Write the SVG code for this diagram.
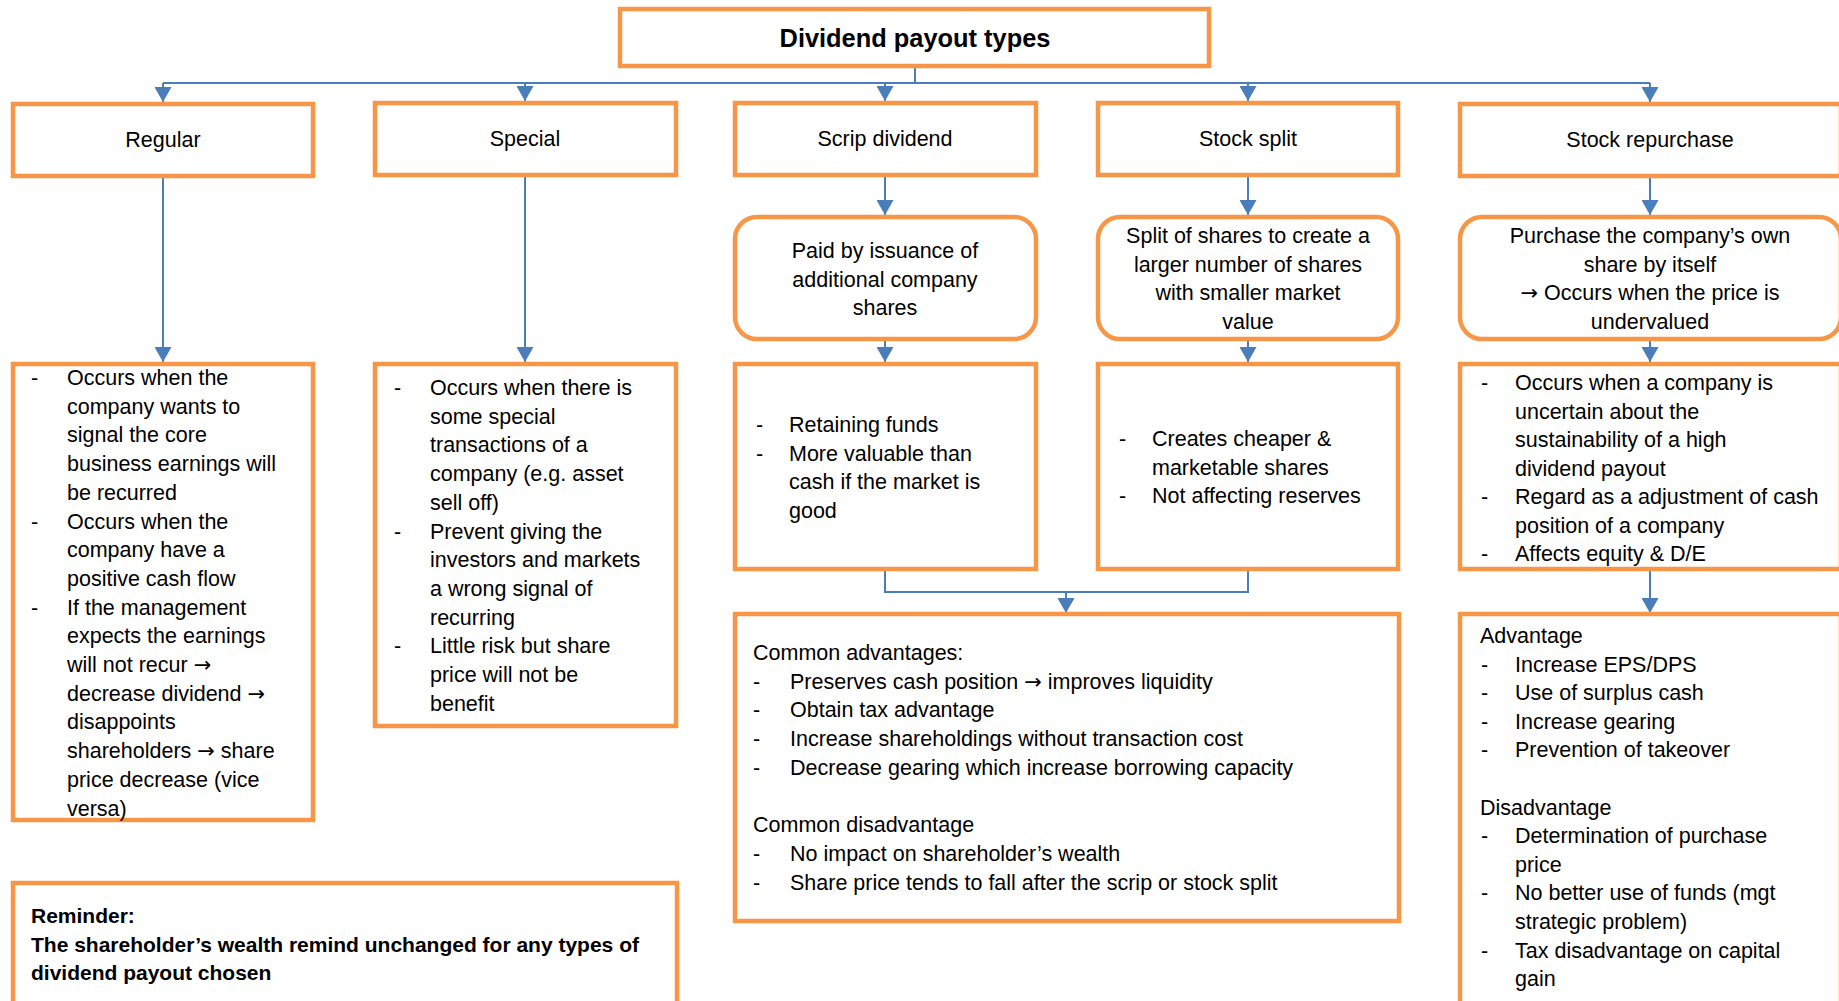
<svg xmlns="http://www.w3.org/2000/svg" width="1839" height="1001" viewBox="0 0 1839 1001">
<style>
.box{fill:#fff;stroke:#F79646;stroke-width:4.5}
.t{font-family:"Liberation Sans",Arial,sans-serif;font-size:21.5px;fill:#000}
.c{text-anchor:middle}
.b{font-weight:bold;font-size:21px}
.a{font-family:"DejaVu Sans",sans-serif;font-size:21px}
.title{font-family:"Liberation Sans",Arial,sans-serif;font-weight:bold;font-size:25.4px;text-anchor:middle;fill:#000}
.ln{fill:none;stroke:#4A7EBB;stroke-width:2}
.ar{marker-end:url(#arr)}
</style>
<defs>
<marker id="arr" markerUnits="userSpaceOnUse" markerWidth="16" markerHeight="17" refX="15" refY="8.5" orient="auto">
<path d="M0,0 L15,8.5 L0,17 Z" fill="#4A7EBB"/>
</marker>
</defs>
<rect width="1839" height="1001" fill="#fff"/>

<g id="connectors">
<path class="ln" d="M915,68 V83 M163,83 H1650"/>
<path class="ln ar" d="M163,83 V102"/>
<path class="ln ar" d="M525,83 V101"/>
<path class="ln ar" d="M885,83 V101"/>
<path class="ln ar" d="M1248,83 V101"/>
<path class="ln ar" d="M1650,83 V102"/>
<path class="ln ar" d="M163,178 V362"/>
<path class="ln ar" d="M525,177 V362"/>
<path class="ln ar" d="M885,177 V215"/>
<path class="ln ar" d="M1248,177 V215"/>
<path class="ln ar" d="M1650,178 V215"/>
<path class="ln ar" d="M885,341 V362"/>
<path class="ln ar" d="M1248,341 V362"/>
<path class="ln ar" d="M1650,341 V362"/>
<path class="ln" d="M885,571 V592 H1248 V571"/>
<path class="ln ar" d="M1066,592 V613"/>
<path class="ln ar" d="M1650,571 V613"/>
</g>

<g id="title">
<rect class="box" x="620" y="9" width="589" height="57"/>
<text class="title" x="915" y="47">Dividend payout types</text>
</g>

<g id="regular">
<rect class="box" x="13" y="104" width="300" height="72"/>
<text class="t c" x="163" y="147">Regular</text>
</g>
<g id="special">
<rect class="box" x="375" y="103" width="301" height="72"/>
<text class="t c" x="525" y="146">Special</text>
</g>
<g id="scrip">
<rect class="box" x="735" y="103" width="301" height="72"/>
<text class="t c" x="885" y="146">Scrip dividend</text>
</g>
<g id="split">
<rect class="box" x="1098" y="103" width="300" height="72"/>
<text class="t c" x="1248" y="146">Stock split</text>
</g>
<g id="repurchase">
<rect class="box" x="1460" y="104" width="381" height="72"/>
<text class="t c" x="1650" y="147">Stock repurchase</text>
</g>

<g id="scrip-desc">
<rect class="box" x="735" y="217" width="301" height="122" rx="22"/>
<text class="t c" x="885" y="258">Paid by issuance of</text>
<text class="t c" x="885" y="287">additional company</text>
<text class="t c" x="885" y="315">shares</text>
</g>
<g id="split-desc">
<rect class="box" x="1098" y="217" width="300" height="122" rx="22"/>
<text class="t c" x="1248" y="243">Split of shares to create a</text>
<text class="t c" x="1248" y="271.5">larger number of shares</text>
<text class="t c" x="1248" y="300">with smaller market</text>
<text class="t c" x="1248" y="328.5">value</text>
</g>
<g id="repurchase-desc">
<rect class="box" x="1460" y="217" width="381" height="122" rx="22"/>
<text class="t c" x="1650" y="243">Purchase the company’s own</text>
<text class="t c" x="1650" y="271.5">share by itself</text>
<text class="t c" x="1650" y="300"><tspan class="a">→</tspan> Occurs when the price is</text>
<text class="t c" x="1650" y="328.5">undervalued</text>
</g>

<g id="regular-details">
<rect class="box" x="13" y="364" width="300" height="456"/>
<text class="t" x="31" y="385">-</text>
<text class="t" x="67" y="385">Occurs when the</text>
<text class="t" x="67" y="413.7">company wants to</text>
<text class="t" x="67" y="442.4">signal the core</text>
<text class="t" x="67" y="471.1">business earnings will</text>
<text class="t" x="67" y="499.8">be recurred</text>
<text class="t" x="31" y="528.5">-</text>
<text class="t" x="67" y="528.5">Occurs when the</text>
<text class="t" x="67" y="557.2">company have a</text>
<text class="t" x="67" y="585.9">positive cash flow</text>
<text class="t" x="31" y="614.6">-</text>
<text class="t" x="67" y="614.6">If the management</text>
<text class="t" x="67" y="643.3">expects the earnings</text>
<text class="t" x="67" y="672">will not recur <tspan class="a">→</tspan></text>
<text class="t" x="67" y="700.7">decrease dividend <tspan class="a">→</tspan></text>
<text class="t" x="67" y="729.4">disappoints</text>
<text class="t" x="67" y="758.1">shareholders <tspan class="a">→</tspan> share</text>
<text class="t" x="67" y="786.8">price decrease (vice</text>
<text class="t" x="67" y="815.5">versa)</text>
</g>

<g id="special-details">
<rect class="box" x="375" y="364" width="301" height="362"/>
<text class="t" x="394" y="395">-</text>
<text class="t" x="430" y="395">Occurs when there is</text>
<text class="t" x="430" y="423.7">some special</text>
<text class="t" x="430" y="452.4">transactions of a</text>
<text class="t" x="430" y="481.1">company (e.g. asset</text>
<text class="t" x="430" y="509.8">sell off)</text>
<text class="t" x="394" y="538.5">-</text>
<text class="t" x="430" y="538.5">Prevent giving the</text>
<text class="t" x="430" y="567.2">investors and markets</text>
<text class="t" x="430" y="595.9">a wrong signal of</text>
<text class="t" x="430" y="624.6">recurring</text>
<text class="t" x="394" y="653.3">-</text>
<text class="t" x="430" y="653.3">Little risk but share</text>
<text class="t" x="430" y="682">price will not be</text>
<text class="t" x="430" y="710.7">benefit</text>
</g>

<g id="scrip-details">
<rect class="box" x="735" y="364" width="301" height="205"/>
<text class="t" x="756" y="432">-</text>
<text class="t" x="789" y="432">Retaining funds</text>
<text class="t" x="756" y="460.7">-</text>
<text class="t" x="789" y="460.7">More valuable than</text>
<text class="t" x="789" y="489.4">cash if the market is</text>
<text class="t" x="789" y="518.1">good</text>
</g>

<g id="split-details">
<rect class="box" x="1098" y="364" width="300" height="205"/>
<text class="t" x="1119" y="446">-</text>
<text class="t" x="1152" y="446">Creates cheaper &amp;</text>
<text class="t" x="1152" y="474.7">marketable shares</text>
<text class="t" x="1119" y="503.4">-</text>
<text class="t" x="1152" y="503.4">Not affecting reserves</text>
</g>

<g id="repurchase-details">
<rect class="box" x="1460" y="364" width="381" height="205"/>
<text class="t" x="1481" y="390">-</text>
<text class="t" x="1515" y="390">Occurs when a company is</text>
<text class="t" x="1515" y="418.5">uncertain about the</text>
<text class="t" x="1515" y="447">sustainability of a high</text>
<text class="t" x="1515" y="475.5">dividend payout</text>
<text class="t" x="1481" y="504">-</text>
<text class="t" x="1515" y="504">Regard as a adjustment of cash</text>
<text class="t" x="1515" y="532.5">position of a company</text>
<text class="t" x="1481" y="561">-</text>
<text class="t" x="1515" y="561">Affects equity &amp; D/E</text>
</g>

<g id="common">
<rect class="box" x="735" y="614" width="664" height="307"/>
<text class="t" x="753" y="660">Common advantages:</text>
<text class="t" x="753" y="688.7">-</text>
<text class="t" x="790" y="688.7">Preserves cash position <tspan class="a">→</tspan> improves liquidity</text>
<text class="t" x="753" y="717.4">-</text>
<text class="t" x="790" y="717.4">Obtain tax advantage</text>
<text class="t" x="753" y="746.1">-</text>
<text class="t" x="790" y="746.1">Increase shareholdings without transaction cost</text>
<text class="t" x="753" y="774.8">-</text>
<text class="t" x="790" y="774.8">Decrease gearing which increase borrowing capacity</text>
<text class="t" x="753" y="832.2">Common disadvantage</text>
<text class="t" x="753" y="860.9">-</text>
<text class="t" x="790" y="860.9">No impact on shareholder’s wealth</text>
<text class="t" x="753" y="889.6">-</text>
<text class="t" x="790" y="889.6">Share price tends to fall after the scrip or stock split</text>
</g>

<g id="repurchase-pros-cons">
<rect class="box" x="1460" y="614" width="381" height="400"/>
<text class="t" x="1480" y="643">Advantage</text>
<text class="t" x="1481" y="671.6">-</text>
<text class="t" x="1515" y="671.6">Increase EPS/DPS</text>
<text class="t" x="1481" y="700.2">-</text>
<text class="t" x="1515" y="700.2">Use of surplus cash</text>
<text class="t" x="1481" y="728.8">-</text>
<text class="t" x="1515" y="728.8">Increase gearing</text>
<text class="t" x="1481" y="757.4">-</text>
<text class="t" x="1515" y="757.4">Prevention of takeover</text>
<text class="t" x="1480" y="814.6">Disadvantage</text>
<text class="t" x="1481" y="843.2">-</text>
<text class="t" x="1515" y="843.2">Determination of purchase</text>
<text class="t" x="1515" y="871.8">price</text>
<text class="t" x="1481" y="900.4">-</text>
<text class="t" x="1515" y="900.4">No better use of funds (mgt</text>
<text class="t" x="1515" y="929">strategic problem)</text>
<text class="t" x="1481" y="957.6">-</text>
<text class="t" x="1515" y="957.6">Tax disadvantage on capital</text>
<text class="t" x="1515" y="986.2">gain</text>
</g>

<g id="reminder">
<rect class="box" x="13" y="883" width="664" height="200"/>
<text class="t b" x="31" y="923">Reminder:</text>
<text class="t b" x="31" y="952">The shareholder’s wealth remind unchanged for any types of</text>
<text class="t b" x="31" y="980">dividend payout chosen</text>
</g>
</svg>
